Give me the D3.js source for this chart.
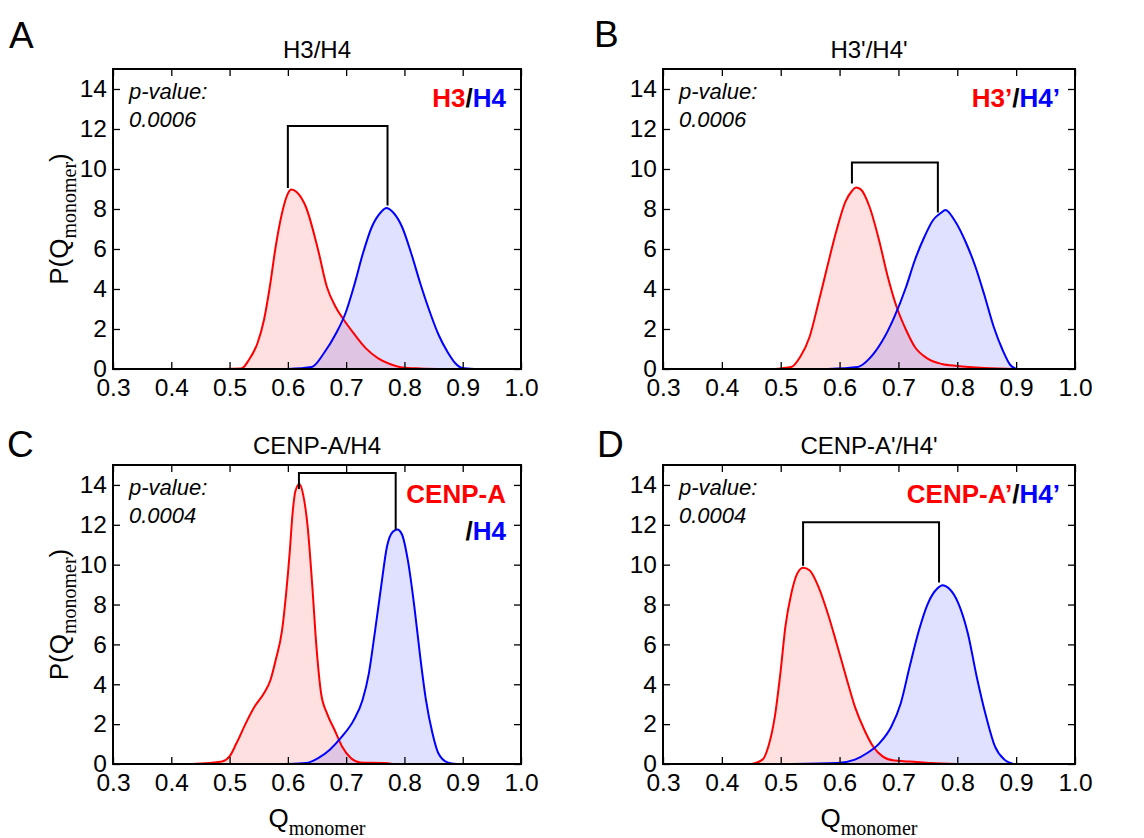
<!DOCTYPE html>
<html>
<head>
<meta charset="utf-8">
<script src="https://d3js.org/d3.v7.min.js"></script>
<style>
  body { margin: 0; background: #fff; }
  svg text { font-family: "Liberation Sans", Arial, sans-serif; }
</style>
</head>
<body>
<div id="chart"></div>
<script>
// tick values
var xTicks = [0.3, 0.4, 0.5, 0.6, 0.7, 0.8, 0.9, 1.0];
var yTicks = [0, 2, 4, 6, 8, 10, 12, 14];

// panel A: H3 / H4
var h3X = [0.49, 0.52, 0.533, 0.548, 0.559, 0.569, 0.579, 0.590, 0.600, 0.606, 0.615, 0.631, 0.652, 0.667, 0.682, 0.695, 0.713, 0.734, 0.755, 0.775, 0.796, 0.827, 0.87];
var h3Y = [0, 0.02, 0.45, 1.3, 2.45, 4.1, 6.1, 7.8, 8.77, 8.97, 8.85, 8.1, 5.94, 4.1, 3.1, 2.5, 1.78, 1.03, 0.53, 0.25, 0.08, 0.03, 0];
var h4X = [0.60, 0.641, 0.662, 0.683, 0.699, 0.713, 0.729, 0.744, 0.760, 0.769, 0.780, 0.796, 0.812, 0.827, 0.843, 0.858, 0.874, 0.887, 0.899, 0.92];
var h4Y = [0, 0.1, 0.8, 1.8, 2.8, 4.1, 5.8, 7.1, 7.85, 8.05, 7.85, 7.1, 5.75, 4.3, 2.9, 1.75, 0.85, 0.3, 0.05, 0];

// panel B: H3' / H4'
var h3pX = [0.49, 0.50, 0.518, 0.533, 0.549, 0.564, 0.579, 0.595, 0.610, 0.621, 0.628, 0.636, 0.651, 0.667, 0.682, 0.697, 0.713, 0.728, 0.749, 0.774, 0.800, 0.846, 0.90];
var h3pY = [0, 0.03, 0.1, 0.6, 1.6, 3.3, 5.1, 6.95, 8.37, 8.9, 9.07, 8.98, 8.1, 6.45, 4.6, 3.1, 1.95, 1.1, 0.53, 0.25, 0.15, 0.05, 0];
var h4pX = [0.58, 0.631, 0.651, 0.672, 0.692, 0.713, 0.728, 0.744, 0.759, 0.772, 0.780, 0.795, 0.815, 0.831, 0.846, 0.862, 0.877, 0.890, 0.90];
var h4pY = [0, 0.1, 0.53, 1.37, 2.53, 4.1, 5.45, 6.6, 7.45, 7.8, 7.95, 7.45, 6.3, 5.1, 3.7, 2.1, 0.95, 0.2, 0];

// panel C: CENP-A / H4
var cenpX = [0.435, 0.487, 0.5, 0.512, 0.528, 0.543, 0.559, 0.570, 0.579, 0.590, 0.597, 0.603, 0.608, 0.613, 0.620, 0.626, 0.634, 0.642, 0.649, 0.657, 0.667, 0.680, 0.693, 0.708, 0.724, 0.765, 0.78];
var cenpY = [0, 0.13, 0.38, 1.05, 2.05, 2.88, 3.55, 4.2, 5.2, 6.7, 8.55, 10.55, 12.55, 13.7, 14.05, 13.55, 11.9, 8.9, 5.9, 3.55, 2.55, 1.72, 0.88, 0.3, 0.08, 0.05, 0];
var h4cX = [0.60, 0.631, 0.652, 0.672, 0.693, 0.713, 0.728, 0.739, 0.749, 0.760, 0.770, 0.780, 0.788, 0.796, 0.806, 0.817, 0.827, 0.837, 0.848, 0.858, 0.874, 0.89];
var h4cY = [0, 0.05, 0.3, 0.72, 1.38, 2.2, 3.2, 4.55, 6.55, 8.9, 10.9, 11.65, 11.77, 11.5, 10.2, 7.9, 5.4, 3.2, 1.55, 0.55, 0.08, 0];

// panel D: CENP-A' / H4'
var cenppX = [0.45, 0.469, 0.479, 0.490, 0.5, 0.508, 0.518, 0.528, 0.538, 0.549, 0.564, 0.580, 0.595, 0.611, 0.626, 0.642, 0.657, 0.673, 0.693, 0.719, 0.755, 0.80];
var cenppY = [0, 0.22, 0.88, 2.38, 4.7, 6.9, 8.55, 9.55, 9.85, 9.72, 8.9, 7.55, 6.05, 4.38, 2.88, 1.72, 0.88, 0.38, 0.17, 0.13, 0.05, 0];
var h4dX = [0.52, 0.596, 0.626, 0.647, 0.668, 0.688, 0.704, 0.719, 0.735, 0.750, 0.766, 0.775, 0.786, 0.802, 0.818, 0.833, 0.849, 0.864, 0.880, 0.895];
var h4dY = [0, 0.05, 0.22, 0.55, 1.05, 1.88, 3.05, 4.88, 6.72, 8.05, 8.8, 8.97, 8.8, 8.05, 6.55, 4.38, 2.38, 0.88, 0.22, 0];

// brackets: [left x, right x], top, [left end, right end]
var bracketX = [[0.600, 0.771], [0.621, 0.767], [0.619, 0.785], [0.538, 0.769]];
var bracketTop = [12.15, 10.33, 14.6, 12.13];
var bracketEnds = [[9.05, 8.17], [9.28, 7.83], [13.8, 11.75], [9.94, 9.1]];

var titles = ["H3/H4", "H3'/H4'", "CENP-A/H4", "CENP-A'/H4'"];
var letters = ["A", "B", "C", "D"];
var pValues = ["0.0006", "0.0006", "0.0004", "0.0004"];

// layout of the four panels (pixels)
var layout = [
  {left: 113, top: 69, w: 408, h: 300, lx: 9, ly: 48, ylab: true, xlab: false},
  {left: 663, top: 69, w: 412, h: 300, lx: 594, ly: 47, ylab: false, xlab: false},
  {left: 113, top: 465, w: 408, h: 299, lx: 7, ly: 457, ylab: true, xlab: true},
  {left: 663, top: 465, w: 412, h: 299, lx: 597, ly: 457, ylab: false, xlab: true}
];

var series = [
  [{x: h3X, y: h3Y}, {x: h4X, y: h4Y}],
  [{x: h3pX, y: h3pY}, {x: h4pX, y: h4pY}],
  [{x: cenpX, y: cenpY}, {x: h4cX, y: h4cY}],
  [{x: cenppX, y: cenppY}, {x: h4dX, y: h4dY}]
];

// legend pieces: lines of [text, colour]
var legends = [
  [[["H3", "#ff0000"], ["/", "#000"], ["H4", "#0000ff"]]],
  [[["H3\u2019", "#ff0000"], ["/", "#000"], ["H4\u2019", "#0000ff"]]],
  [[["CENP-A", "#ff0000"]], [["/", "#000"], ["H4", "#0000ff"]]],
  [[["CENP-A\u2019", "#ff0000"], ["/", "#000"], ["H4\u2019", "#0000ff"]]]
];

var colors = ["#ff0000", "#0000ff"];

var svg = d3.select("#chart")
  .append("svg")
    .attr("width", 1144)
    .attr("height", 838);

layout.forEach(function(L, i) {
  var g = svg.append("g")
    .attr("transform", "translate(" + L.left + "," + L.top + ")");

  var x = d3.scaleLinear().domain([0.3, 1.0]).range([0, L.w]);
  var y = d3.scaleLinear().domain([0, 15]).range([L.h, 0]);

  // filled densities, then their outlines
  series[i].forEach(function(s, k) {
    var pts = s.x.map(function(v, j) { return [v, s.y[j]]; });
    var area = d3.area()
      .x(function(d) { return x(d[0]); })
      .y0(y(0))
      .y1(function(d) { return y(d[1]); })
      .curve(d3.curveMonotoneX);
    g.append("path")
      .attr("d", area(pts))
      .attr("fill", colors[k])
      .attr("fill-opacity", 0.12);
  });
  series[i].forEach(function(s, k) {
    var pts = s.x.map(function(v, j) { return [v, s.y[j]]; });
    var line = d3.line()
      .x(function(d) { return x(d[0]); })
      .y(function(d) { return y(d[1]); })
      .curve(d3.curveMonotoneX);
    g.append("path")
      .attr("d", line(pts))
      .attr("fill", "none")
      .attr("stroke", colors[k])
      .attr("stroke-width", 2);
  });

  // bracket
  var bx = bracketX[i], be = bracketEnds[i];
  g.append("path")
    .attr("d", "M" + x(bx[0]) + "," + y(be[0]) +
               "V" + y(bracketTop[i]) +
               "H" + x(bx[1]) +
               "V" + y(be[1]))
    .attr("fill", "none")
    .attr("stroke", "#000")
    .attr("stroke-width", 2);

  // axes, ticks pointing inward on all four sides
  var axB = g.append("g")
    .attr("transform", "translate(0," + L.h + ")")
    .call(d3.axisBottom(x).tickValues(xTicks).tickSizeInner(-7).tickSizeOuter(0)
      .tickPadding(10).tickFormat(d3.format(".1f")));
  var axL = g.append("g")
    .call(d3.axisLeft(y).tickValues(yTicks).tickSizeInner(-7).tickSizeOuter(0)
      .tickPadding(6));
  var axT = g.append("g")
    .call(d3.axisTop(x).tickValues(xTicks).tickSizeInner(-7).tickSizeOuter(0).tickFormat(""));
  var axR = g.append("g")
    .attr("transform", "translate(" + L.w + ",0)")
    .call(d3.axisRight(y).tickValues(yTicks).tickSizeInner(-7).tickSizeOuter(0).tickFormat(""));

  [axB, axL, axT, axR].forEach(function(a) {
    a.select(".domain").remove();
    a.selectAll(".tick line").attr("stroke", "#000").attr("stroke-width", 1.3);
    a.selectAll("text")
      .attr("fill", "#000")
      .style("font-family", "Liberation Sans, Arial, sans-serif")
      .style("font-size", "24.5px");
  });

  // frame
  g.append("rect")
    .attr("width", L.w)
    .attr("height", L.h)
    .attr("fill", "none")
    .attr("stroke", "#000")
    .attr("stroke-width", 2);

  // title
  g.append("text")
    .attr("x", L.w / 2)
    .attr("y", -11)
    .attr("text-anchor", "middle")
    .style("font-size", "24px")
    .text(titles[i]);

  // panel letter
  svg.append("text")
    .attr("x", L.lx)
    .attr("y", L.ly)
    .style("font-size", "37px")
    .text(letters[i]);

  // p-value
  g.append("text")
    .attr("x", 16)
    .attr("y", 30)
    .style("font-size", "22px")
    .style("font-style", "italic")
    .text("p-value:");
  g.append("text")
    .attr("x", 16)
    .attr("y", 58)
    .style("font-size", "22px")
    .style("font-style", "italic")
    .text(pValues[i]);

  // legend
  legends[i].forEach(function(lineParts, li) {
    var t = g.append("text")
      .attr("x", L.w - 15)
      .attr("y", 38 + li * 37)
      .attr("text-anchor", "end")
      .style("font-size", "26px")
      .style("font-weight", "bold");
    lineParts.forEach(function(p) {
      t.append("tspan").attr("fill", p[1]).text(p[0]);
    });
  });

  // y axis label
  if (L.ylab) {
    var yl = svg.append("text")
      .attr("transform", "translate(68," + (L.top + L.h / 2) + ") rotate(-90)")
      .attr("text-anchor", "middle")
      .style("font-size", "26px");
    yl.append("tspan").text("P(Q");
    yl.append("tspan")
      .attr("dy", 8)
      .style("font-family", "Liberation Serif, serif")
      .style("font-size", "20px")
      .text("monomer");
    yl.append("tspan").attr("dy", -8).text(")");
  }

  // x axis label
  if (L.xlab) {
    var xl = svg.append("text")
      .attr("x", L.left + L.w / 2)
      .attr("y", 827)
      .attr("text-anchor", "middle")
      .style("font-size", "26px");
    xl.append("tspan").text("Q");
    xl.append("tspan")
      .attr("dy", 8)
      .style("font-family", "Liberation Serif, serif")
      .style("font-size", "20px")
      .text("monomer");
  }
});
</script>
</body>
</html>
